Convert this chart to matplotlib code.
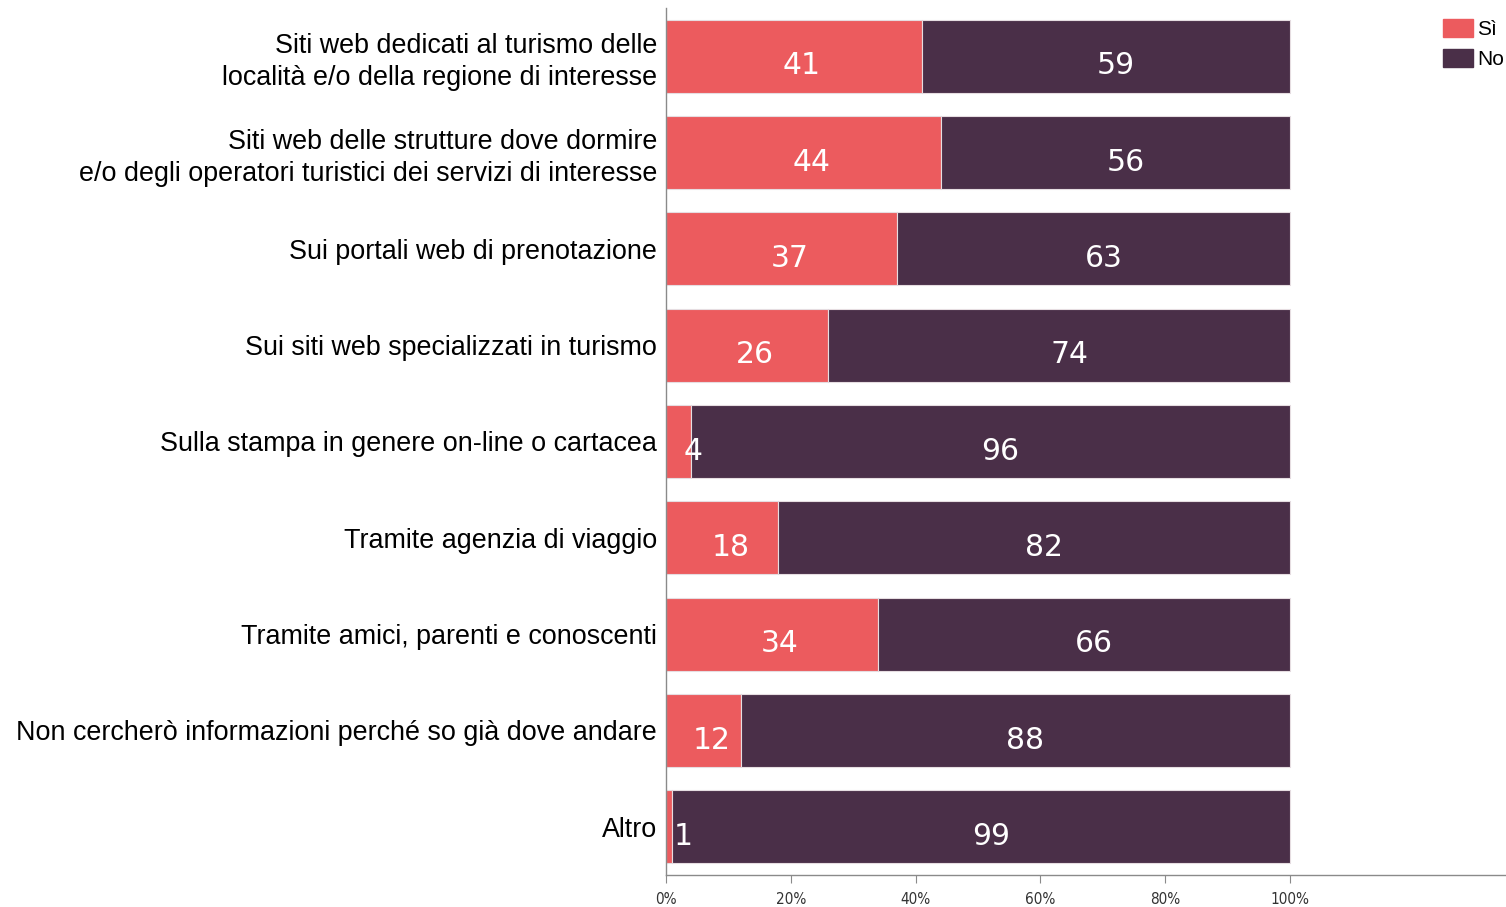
import matplotlib
matplotlib.use("Agg")
import matplotlib.pyplot as plt
import matplotlib.patches as mpatches

# -----------------------------
# Dati
# -----------------------------
categorie = [
    "Siti web dedicati al turismo delle\nlocalità e/o della regione di interesse",
    "Siti web delle strutture dove dormire\ne/o degli operatori turistici dei servizi di interesse",
    "Sui portali web di prenotazione",
    "Sui siti web specializzati in turismo",
    "Sulla stampa in genere on-line o cartacea",
    "Tramite agenzia di viaggio",
    "Tramite amici, parenti e conoscenti",
    "Non cercherò informazioni perché so già dove andare",
    "Altro",
]
si = [41, 44, 37, 26, 4, 18, 34, 12, 1]
no = [59, 56, 63, 74, 96, 82, 66, 88, 99]
tick_valori = [0, 20, 40, 60, 80, 100]
tick_etichette = ["0%", "20%", "40%", "60%", "80%", "100%"]

col_si = "#EC5B5E"
col_no = "#4A2F48"
grigio = "#8a8a8a"

# -----------------------------
# Figura
# -----------------------------
fig = plt.figure(figsize=(15.06, 9.07), dpi=100)
ax = fig.add_axes([0.4422, 0.0353, 0.5578, 0.9559])

y = list(range(len(categorie)))
ax.barh(y, si, height=0.76, color=col_si, edgecolor="#e6dde1", linewidth=0.8)
ax.barh(y, no, left=si, height=0.76, color=col_no, edgecolor="#e6dde1", linewidth=0.8)

# etichette dei valori (le barre strette hanno l'etichetta spostata a destra)
for i in y:
    if si[i] < 6:
        xs = max(si[i] + 0.3, 2.7)
    else:
        xs = si[i] / 2 + 1.3
    ax.text(xs, i + 0.1, str(si[i]), color="white", fontsize=21.5,
            ha="center", va="center", family="DejaVu Sans")
    ax.text(si[i] + no[i] / 2 + 1.6, i + 0.1, str(no[i]), color="white", fontsize=21.5,
            ha="center", va="center", family="DejaVu Sans")

ax.set_xlim(0, 134.6)
ax.set_ylim(len(categorie) - 0.5, -0.5)

ax.set_yticks(y)
ax.set_yticklabels(categorie, fontsize=19.4, family="Liberation Sans", linespacing=1.3)
ax.tick_params(axis="y", length=0, pad=6.5)

ax.set_xticks(tick_valori)
ax.set_xticklabels(tick_etichette, fontsize=11, family="DejaVu Sans", color="#333333",
                   fontstretch="condensed")
ax.tick_params(axis="x", length=6, color=grigio, pad=6)

for s in ["top", "right"]:
    ax.spines[s].set_visible(False)
for s in ["left", "bottom"]:
    ax.spines[s].set_color(grigio)
    ax.spines[s].set_linewidth(1)

# -----------------------------
# Legenda
# -----------------------------
handles = [mpatches.Patch(color=col_si, label="Sì"),
           mpatches.Patch(color=col_no, label="No")]
fig.legend(handles=handles, loc="upper left", bbox_to_anchor=(0.9485, 0.995),
           frameon=False, handlelength=1.45, handleheight=0.95,
           handletextpad=0.2, labelspacing=0.45, borderpad=0.2,
           prop={"family": "Liberation Sans", "size": 15})

fig.savefig("out.png", dpi=100)
